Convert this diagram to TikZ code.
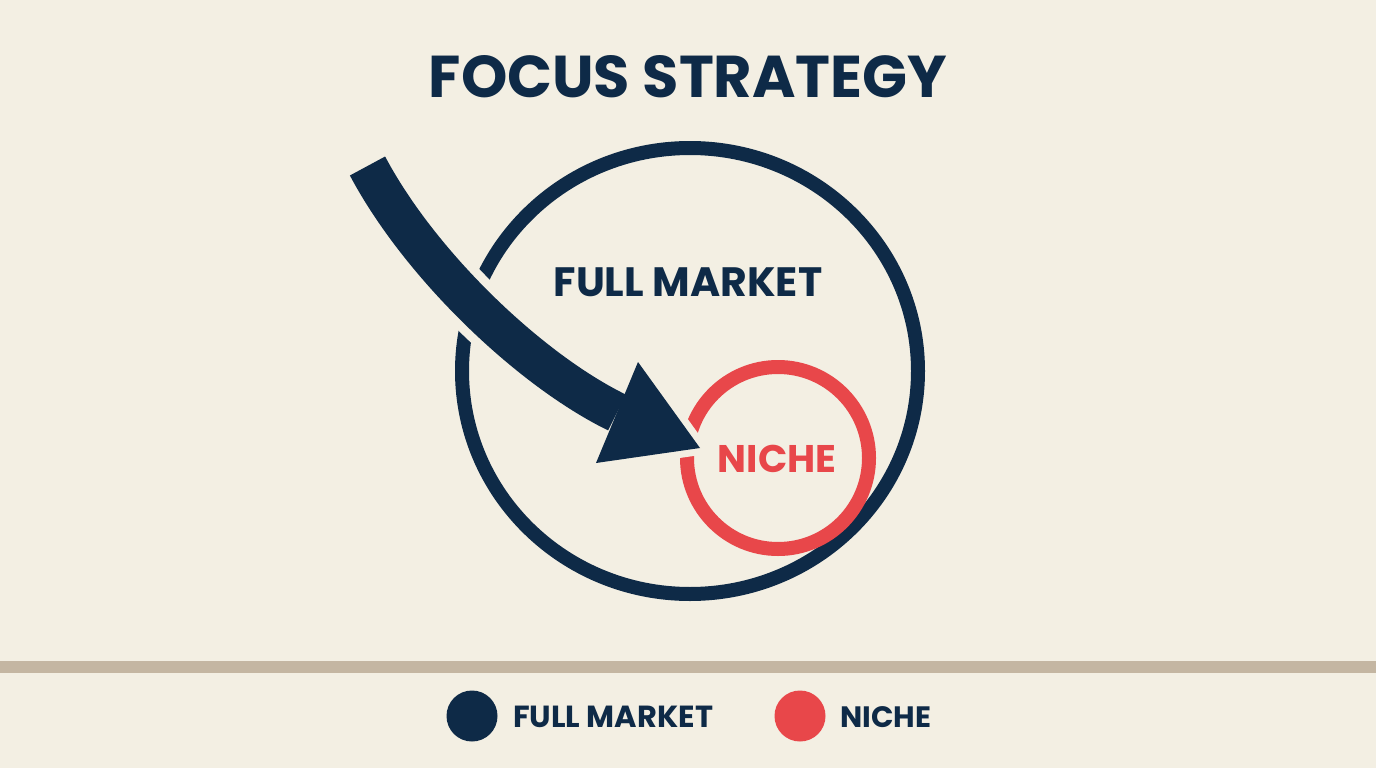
\documentclass[tikz,border=0pt]{standalone}
\usepackage{fontspec}
\setmainfont{Poppins}
\definecolor{bgc}{HTML}{F3EFE3}
\definecolor{navy}{HTML}{0E2A47}
\definecolor{nred}{HTML}{E8474A}
\definecolor{tan}{HTML}{C4B6A2}
\tikzset{
  lbl/.style={font=\bfseries\fontsize{#1}{#1}\selectfont, inner sep=0pt},
  gapline/.style={draw=bgc, line width=#1},
}
\begin{document}
\begin{tikzpicture}[x=1pt,y=-1pt]
\useasboundingbox (0,0) rectangle (1376,768);
\fill[bgc] (0,0) rectangle (1376,768);
% title
\node[lbl=59, text=navy, anchor=base] (title) at (688,97) {FOCUS STRATEGY};
% full market circle
\draw[navy, line width=14] (690,371) ellipse [x radius=228, y radius=223];
\node[lbl=41, text=navy, anchor=base] (fm) at (688,296) {FULL MARKET};
% niche circle
\draw[nred, line width=14] (778,458) circle [radius=91];
\node[lbl=38.5, text=nred, anchor=base] (niche) at (777,472) {NICHE};
% arrow
\coordinate (s) at (367.5,166);
\coordinate (b) at (617,412.5);
\coordinate (tip) at (700,448);
\coordinate (h1) at (638,362);
\coordinate (h2) at (596,463);
\draw[gapline=58] (s) .. controls (420,265) and (530,370) .. (b);
\draw[gapline=14, line join=miter, fill=bgc] (h1) -- (tip) -- (h2) -- cycle;
\draw[navy, line width=40] (s) .. controls (420,265) and (530,370) .. (b);
\fill[navy] (h1) -- (tip) -- (h2) -- cycle;
% legend
\fill[tan] (0,661) rectangle (1376,673);
\fill[navy] (472,716) circle [radius=25.5] node (d1) {};
\node[lbl=30.5, text=navy, anchor=base west] (l1) at (513,727) {FULL MARKET};
\fill[nred] (800,716) circle [radius=25.5] node (d2) {};
\node[lbl=29.5, text=navy, anchor=base west] (l2) at (840,727) {NICHE};
\end{tikzpicture}
\end{document}
